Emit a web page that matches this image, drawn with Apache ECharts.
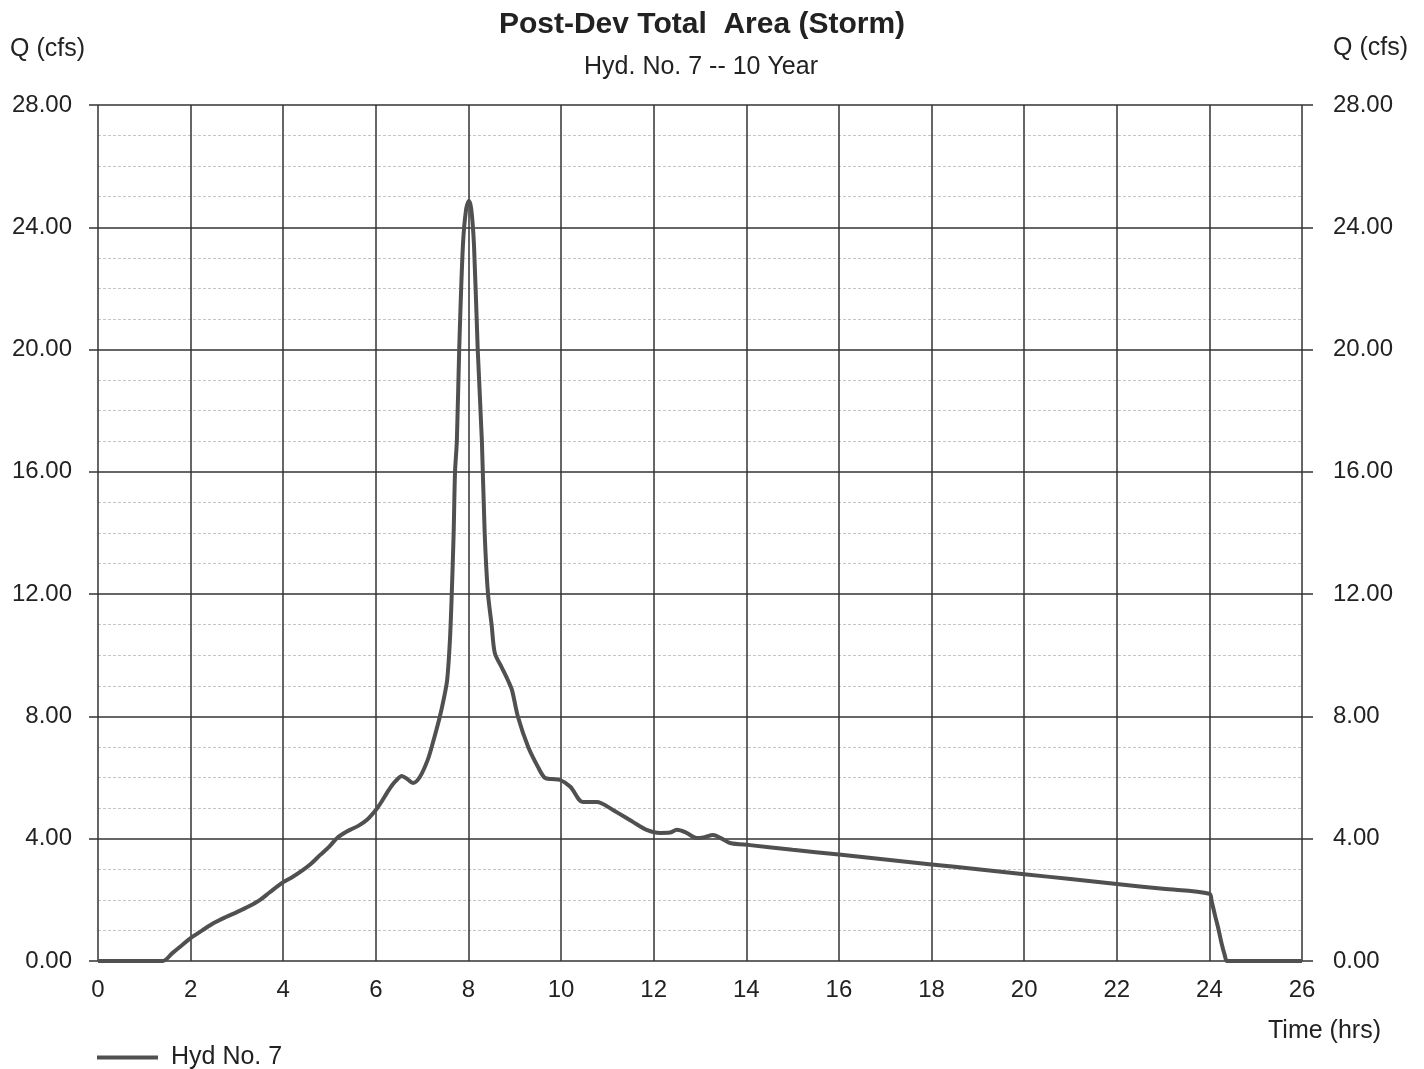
<!DOCTYPE html>
<html>
<head>
<meta charset="utf-8">
<script src="https://cdn.jsdelivr.net/npm/echarts@6/dist/echarts.min.js"></script>
<style>
html,body{margin:0;padding:0;background:#fff;}
#chart{width:1424px;height:1069px;}
</style>
</head>
<body>
<div id="chart"></div>
<script>
var titleText = 'Post-Dev Total  Area (Storm)';
var subtitleText = 'Hyd. No. 7 -- 10 Year';
var seriesName = 'Hyd No. 7';
var xTicks = [0,2,4,6,8,10,12,14,16,18,20,22,24,26];
var yTicks = [0,4,8,12,16,20,24,28];

var timeHrs = [0, 1.4, 1.6, 1.8, 2.0, 2.25, 2.5, 2.75, 3.0, 3.25, 3.5, 3.71, 4.0, 4.2, 4.43, 4.6, 4.8, 5.0, 5.16, 5.3, 5.44, 5.62, 5.81, 6.0, 6.12, 6.24, 6.35, 6.45, 6.56, 6.68, 6.8, 6.95, 7.12, 7.23, 7.38, 7.47, 7.54, 7.6, 7.64, 7.68, 7.71, 7.75, 7.8, 7.88, 7.95, 8.01, 8.06, 8.12, 8.2, 8.29, 8.35, 8.42, 8.5, 8.57, 8.72, 8.85, 8.94, 9.07, 9.29, 9.5, 9.65, 9.8, 9.98, 10.2, 10.47, 10.77, 11.12, 11.55, 11.85, 12.14, 12.35, 12.5, 12.7, 12.93, 13.1, 13.28, 13.45, 13.65, 14.08, 15.0, 16.0, 17.0, 18.0, 19.0, 20.0, 21.0, 22.0, 23.0, 24.0, 24.05, 24.12, 24.19, 24.26, 24.33, 24.38, 24.5, 25.0, 26.0];
var flowCfs = [0, 0, 0.25, 0.5, 0.75, 1.0, 1.24, 1.43, 1.6, 1.78, 2.0, 2.25, 2.58, 2.75, 2.98, 3.18, 3.47, 3.75, 4.02, 4.17, 4.29, 4.42, 4.62, 4.94, 5.2, 5.5, 5.75, 5.92, 6.05, 5.95, 5.82, 6.02, 6.58, 7.13, 7.98, 8.6, 9.19, 10.5, 12.04, 14.0, 16.0, 17.04, 20.0, 23.4, 24.6, 24.86, 24.6, 23.4, 20.0, 17.0, 14.0, 12.04, 11.0, 10.07, 9.6, 9.19, 8.86, 7.98, 7.0, 6.35, 5.99, 5.95, 5.92, 5.7, 5.2, 5.2, 4.94, 4.55, 4.29, 4.19, 4.2, 4.29, 4.2, 4.02, 4.05, 4.12, 4.02, 3.86, 3.79, 3.64, 3.48, 3.32, 3.16, 3.0, 2.84, 2.68, 2.52, 2.36, 2.2, 1.95, 1.5, 1.08, 0.6, 0.2, 0, 0, 0, 0];

var seriesData = timeHrs.map(function(t, i){ return [t, flowCfs[i]]; });

var chart = echarts.init(document.getElementById('chart'));
var fontFam = '"Liberation Sans", Arial, sans-serif';
var yAxisCommon = {
  type: 'value', min: 0, max: 28, interval: 4,
  axisLine: {show: false},
  axisTick: {show: true, length: 9, lineStyle: {color: '#333', width: 1.5}},
  splitLine: {show: true, lineStyle: {color: '#333', width: 1.5}},
  minorTick: {show: false, splitNumber: 4},
  minorSplitLine: {show: true, lineStyle: {color: '#c4c4c4', width: 1, type: [3, 2]}},
  axisLabel: {color: '#222', fontSize: 24, fontFamily: fontFam,
    formatter: function(v){ return v.toFixed(2); }}
};
var option = {
  backgroundColor: '#fff',
  animation: false,
  title: [
    {text: titleText, left: 697, top: 5, textAlign: 'center',
     textStyle: {fontSize: 30, fontWeight: 'bold', color: '#222', fontFamily: fontFam}},
    {text: subtitleText, left: 696, top: 50, textAlign: 'center',
     textStyle: {fontSize: 25, fontWeight: 'normal', color: '#222', fontFamily: fontFam}}
  ],
  graphic: [
    {type: 'text', left: 10, top: 37, style: {text: 'Q (cfs)', fontSize: 25, fill: '#222', fontFamily: fontFam}},
    {type: 'text', left: 1333, top: 36, style: {text: 'Q (cfs)', fontSize: 25, fill: '#222', fontFamily: fontFam}},
    {type: 'text', left: 1268, top: 1019, style: {text: 'Time (hrs)', fontSize: 25, fill: '#222', fontFamily: fontFam}}
  ],
  legend: {
    left: 92, top: 1040, icon: 'rect', itemWidth: 61, itemHeight: 4, itemGap: 10,
    textStyle: {fontSize: 25, color: '#222', fontFamily: fontFam, padding: [0,0,0,8]},
    data: [seriesName]
  },
  grid: {left: 98, right: 122, top: 105, bottom: 108, containLabel: false},
  xAxis: {
    type: 'value', min: 0, max: 26, interval: 2,
    axisLine: {show: false},
    axisTick: {show: false},
    splitLine: {show: true, lineStyle: {color: '#333', width: 1.5}},
    axisLabel: {color: '#222', fontSize: 24, fontFamily: fontFam, margin: 17}
  },
  yAxis: [
    Object.assign({}, yAxisCommon, {position: 'left', axisLabel: Object.assign({}, yAxisCommon.axisLabel, {margin: 26})}),
    Object.assign({}, yAxisCommon, {position: 'right', splitLine: {show: false}, minorSplitLine: {show: false},
      axisTick: {show: true, length: 11, lineStyle: {color: '#333', width: 1.5}},
      axisLabel: Object.assign({}, yAxisCommon.axisLabel, {margin: 31})})
  ],
  series: [{
    name: seriesName, type: 'line', yAxisIndex: 0,
    data: seriesData, showSymbol: false, smooth: 0.3,
    lineStyle: {color: '#505050', width: 4},
    itemStyle: {color: '#505050'}
  }]
};
chart.setOption(option);
</script>
</body>
</html>
